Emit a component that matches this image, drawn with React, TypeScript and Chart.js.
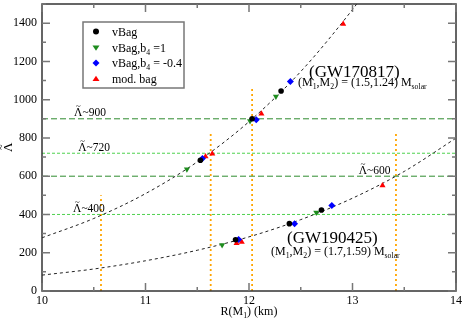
import React, { useEffect, useRef } from 'react';
import { Chart, registerables } from 'chart.js';
Chart.register(...registerables);

// ---- data ----
const xTicks = [10, 11, 12, 13, 14];
const yTicks = [0, 200, 400, 600, 800, 1000, 1200, 1400];

const upperCurveR = [10, 10.5, 11, 11.5, 12, 12.5, 13, 13.1];
const upperCurveL = [278, 379, 509, 675, 885, 1147, 1471, 1544];
const lowerCurveR = [10, 10.5, 11, 11.5, 12, 12.5, 13, 13.5, 14];
const lowerCurveL = [83, 115, 158, 213, 283, 373, 485, 625, 799];

const vBagR = [11.53, 12.03, 12.31, 11.87, 12.39, 12.7];
const vBagL = [683, 900, 1045, 268, 352, 423];
const b4pR = [11.4, 12.01, 12.26, 11.74, 12.65];
const b4pL = [636, 889, 1016, 240, 410];
const b4mR = [11.55, 12.07, 12.4, 11.9, 12.44, 12.8];
const b4mL = [693, 895, 1095, 269, 352, 447];
const modR = [11.58, 11.645, 12.12, 12.91, 11.88, 11.93, 13.29];
const modL = [703, 717, 926, 1395, 250, 256, 552];

const hLevels = [900, 720, 600, 400];
const vLineR = [10.57, 11.63, 12.03, 13.42];
const vLineTop = [500, 820, 1060, 820];

const seriesNames = ['vBag', 'vBag,b4 =1', 'vBag,b4 = -0.4', 'mod. bag'];

// ---- styles ----
const FONT = '"Liberation Serif", "Times New Roman", serif';
const hColors = ['#2e8b2e', '#4fd24f', '#2e8b2e', '#4fd24f'];
const hDash = [[6, 3], [3, 2], [6, 3], [3, 2]];
const markerColors = ['#000000', '#1e8c1e', '#0000ff', '#ff0000'];

const pts = (xs: number[], ys: number[]) => xs.map((x, i) => ({ x, y: ys[i] }));

type Seg = [string, boolean];
function drawRich(ctx: CanvasRenderingContext2D, segs: Seg[], x: number, y: number, size: number) {
  let cx = x;
  for (const [t, sub] of segs) {
    const fs = sub ? size * 0.65 : size;
    ctx.font = `${fs}px ${FONT}`;
    ctx.fillText(t, cx, sub ? y + size * 0.28 : y);
    cx += ctx.measureText(t).width;
  }
  return cx - x;
}

// draws Λ with a tilde above it, returns the width used
function drawLambdaTilde(ctx: CanvasRenderingContext2D, x: number, y: number, size: number) {
  ctx.font = `${size}px ${FONT}`;
  ctx.textAlign = 'left';
  ctx.fillText('\u039B', x, y);
  const w = ctx.measureText('\u039B').width;
  ctx.font = `${size * 0.8}px ${FONT}`;
  ctx.textAlign = 'center';
  ctx.fillText('~', x + w / 2, y - size * 0.62);
  ctx.textAlign = 'left';
  ctx.font = `${size}px ${FONT}`;
  return w;
}

function drawMarker(ctx: CanvasRenderingContext2D, kind: number, x: number, y: number, color: string) {
  ctx.fillStyle = color;
  ctx.beginPath();
  const r = 3.5;
  if (kind === 0) {
    ctx.arc(x, y, 3, 0, Math.PI * 2);
  } else if (kind === 1) {
    ctx.moveTo(x - r, y - r * 0.6);
    ctx.lineTo(x + r, y - r * 0.6);
    ctx.lineTo(x, y + r * 0.9);
  } else if (kind === 2) {
    ctx.moveTo(x, y - r);
    ctx.lineTo(x + r, y);
    ctx.lineTo(x, y + r);
    ctx.lineTo(x - r, y);
  } else {
    ctx.moveTo(x - r, y + r * 0.6);
    ctx.lineTo(x + r, y + r * 0.6);
    ctx.lineTo(x, y - r * 0.9);
  }
  ctx.closePath();
  ctx.fill();
}

const overlay = {
  id: 'overlay',
  afterDraw(chart: any) {
    const { ctx, chartArea: a, scales } = chart;
    const xs = scales.x, ys = scales.y;
    ctx.save();
    // frame
    ctx.strokeStyle = '#333';
    ctx.lineWidth = 1.5;
    ctx.strokeRect(a.left, a.top, a.right - a.left, a.bottom - a.top);
    // ticks
    ctx.strokeStyle = '#777';
    ctx.lineWidth = 1.5;
    ctx.beginPath();
    for (let i = 0; i < xTicks.length; i++) {
      const v = xTicks[i];
      const px = xs.getPixelForValue(v);
      ctx.moveTo(px, a.bottom); ctx.lineTo(px, a.bottom - 8);
      ctx.moveTo(px, a.top); ctx.lineTo(px, a.top + 8);
      if (i < xTicks.length - 1) {
        const mx = xs.getPixelForValue((v + xTicks[i + 1]) / 2);
        ctx.moveTo(mx, a.bottom); ctx.lineTo(mx, a.bottom - 4);
        ctx.moveTo(mx, a.top); ctx.lineTo(mx, a.top + 4);
      }
    }
    for (let i = 0; i < yTicks.length; i++) {
      const v = yTicks[i];
      const py = ys.getPixelForValue(v);
      ctx.moveTo(a.left, py); ctx.lineTo(a.left + 8, py);
      ctx.moveTo(a.right, py); ctx.lineTo(a.right - 8, py);
      const my = ys.getPixelForValue(v + 100);
      ctx.moveTo(a.left, my); ctx.lineTo(a.left + 4, my);
      ctx.moveTo(a.right, my); ctx.lineTo(a.right - 4, my);
    }
    ctx.stroke();

    ctx.fillStyle = '#000';
    ctx.textBaseline = 'alphabetic';
    ctx.textAlign = 'left';
    // level labels
    const lab = (lev: number, r: number) => {
      const px = xs.getPixelForValue(r);
      const py = ys.getPixelForValue(lev) - 2.5;
      const w = drawLambdaTilde(ctx, px, py, 11.5);
      ctx.fillText('~' + lev, px + w, py);
    };
    lab(hLevels[0], 10.31);
    lab(hLevels[1], 10.35);
    lab(hLevels[3], 10.3);
    lab(hLevels[2], 13.06);

    // GW annotations
    ctx.font = `17px ${FONT}`;
    ctx.fillText('(GW170817)', 309, 77);
    drawRich(ctx, [['(M', false], ['1', true], [',M', false], ['2', true], [') = (1.5,1.24) M', false], ['solar', true]], 298, 86, 12);
    ctx.font = `17px ${FONT}`;
    ctx.fillText('(GW190425)', 287, 243);
    drawRich(ctx, [['(M', false], ['1', true], [',M', false], ['2', true], [') = (1.7,1.59) M', false], ['solar', true]], 271, 255, 12);

    // axis titles
    const segsX: Seg[] = [['R(M', false], ['1', true], [') (km)', false]];
    let w = 0;
    for (const [t, sub] of segsX) { ctx.font = `${sub ? 12 * 0.65 : 12}px ${FONT}`; w += ctx.measureText(t).width; }
    drawRich(ctx, segsX, (a.left + a.right) / 2 - w / 2, 315, 12);
    ctx.save();
    ctx.translate(12, 152);
    ctx.rotate(-Math.PI / 2);
    drawLambdaTilde(ctx, 0, 0, 13);
    ctx.restore();

    // legend
    ctx.fillStyle = '#fff';
    ctx.fillRect(83, 22, 101, 66);
    ctx.strokeStyle = '#777';
    ctx.lineWidth = 1.5;
    ctx.strokeRect(83, 22, 101, 66);
    const rows = [31.5, 47.5, 63, 79];
    for (let i = 0; i < 4; i++) {
      drawMarker(ctx, i, 96, rows[i], markerColors[i]);
      ctx.fillStyle = '#000';
      const name = seriesNames[i];
      const y = rows[i] + 4;
      if (name.includes('b4')) {
        const [pre, post] = name.split('b4');
        drawRich(ctx, [[pre + 'b', false], ['4', true], [post, false]], 112, y, 12);
      } else {
        ctx.font = `12px ${FONT}`;
        ctx.fillText(name, 112, y);
      }
    }
    ctx.restore();
  },
};

export default function App() {
  const ref = useRef<HTMLCanvasElement>(null);
  useEffect(() => {
    if (!ref.current) return;
    const datasets: any[] = [];
    const markerSets = [
      { name: seriesNames[0], d: pts(vBagR, vBagL), style: 'circle', r: 2.8, rot: 0 },
      { name: seriesNames[2], d: pts(b4mR, b4mL), style: 'rectRot', r: 3.5, rot: 0 },
      { name: seriesNames[1], d: pts(b4pR, b4pL), style: 'triangle', r: 3.5, rot: 180 },
      { name: seriesNames[3], d: pts(modR, modL), style: 'triangle', r: 3.5, rot: 0 },
    ];
    const colorFor = (n: string) => markerColors[seriesNames.indexOf(n)];
    markerSets.forEach((m, i) => {
      datasets.push({
        label: m.name, data: m.d, showLine: false, pointStyle: m.style, pointRadius: m.r,
        pointRotation: m.rot, pointBackgroundColor: colorFor(m.name), pointBorderWidth: 0,
        pointBorderColor: colorFor(m.name), order: i,
      });
    });
    datasets.push({
      label: 'upper', data: pts(upperCurveR, upperCurveL), showLine: true, pointRadius: 0,
      borderColor: '#222', borderWidth: 1, borderDash: [3, 3], cubicInterpolationMode: 'monotone', order: 10,
    });
    datasets.push({
      label: 'lower', data: pts(lowerCurveR, lowerCurveL), showLine: true, pointRadius: 0,
      borderColor: '#222', borderWidth: 1, borderDash: [3, 3], cubicInterpolationMode: 'monotone', order: 11,
    });
    hLevels.forEach((lev, i) => {
      datasets.push({
        label: 'h' + lev, data: [{ x: xTicks[0], y: lev }, { x: xTicks[xTicks.length - 1], y: lev }],
        showLine: true, pointRadius: 0, borderColor: hColors[i], borderWidth: 1, borderDash: hDash[i], order: 20 + i,
      });
    });
    vLineR.forEach((r, i) => {
      datasets.push({
        label: 'v' + i, data: [{ x: r, y: 0 }, { x: r, y: vLineTop[i] }],
        showLine: true, pointRadius: 0, borderColor: '#ffa500', borderWidth: 1.8, borderDash: [2, 3], order: 30 + i,
      });
    });

    const chart = new Chart(ref.current, {
      type: 'scatter',
      data: { datasets },
      options: {
        animation: false,
        responsive: false,
        events: [],
        layout: { padding: { top: -3, right: 7, left: 0, bottom: 0 } },
        plugins: { legend: { display: false }, tooltip: { enabled: false } },
        scales: {
          x: {
            type: 'linear', min: 10, max: 14,
            grid: { display: false, drawTicks: false },
            border: { display: false },
            ticks: { padding: 3, color: '#000', font: { family: FONT, size: 12 }, callback: (v: any) => String(v) },
            afterBuildTicks: (s: any) => { s.ticks = xTicks.map((v) => ({ value: v })); },
            afterFit: (s: any) => { s.height = 30; s.paddingLeft = 0; s.paddingRight = 0; },
          },
          y: {
            type: 'linear', min: 0, max: 1500,
            grid: { display: false, drawTicks: false },
            border: { display: false },
            ticks: { padding: 5, color: '#000', font: { family: FONT, size: 12 }, callback: (v: any) => String(v) },
            afterBuildTicks: (s: any) => { s.ticks = yTicks.map((v) => ({ value: v })); },
            afterFit: (s: any) => { s.width = 42; s.paddingTop = 0; s.paddingBottom = 0; },
          },
        },
      },
      plugins: [overlay],
    });
    return () => chart.destroy();
  }, []);
  return (
    <div style={{ position: 'absolute', left: 0, top: 0, width: 463, height: 321, background: '#fff' }}>
      <canvas ref={ref} width={463} height={321} />
    </div>
  );
}
